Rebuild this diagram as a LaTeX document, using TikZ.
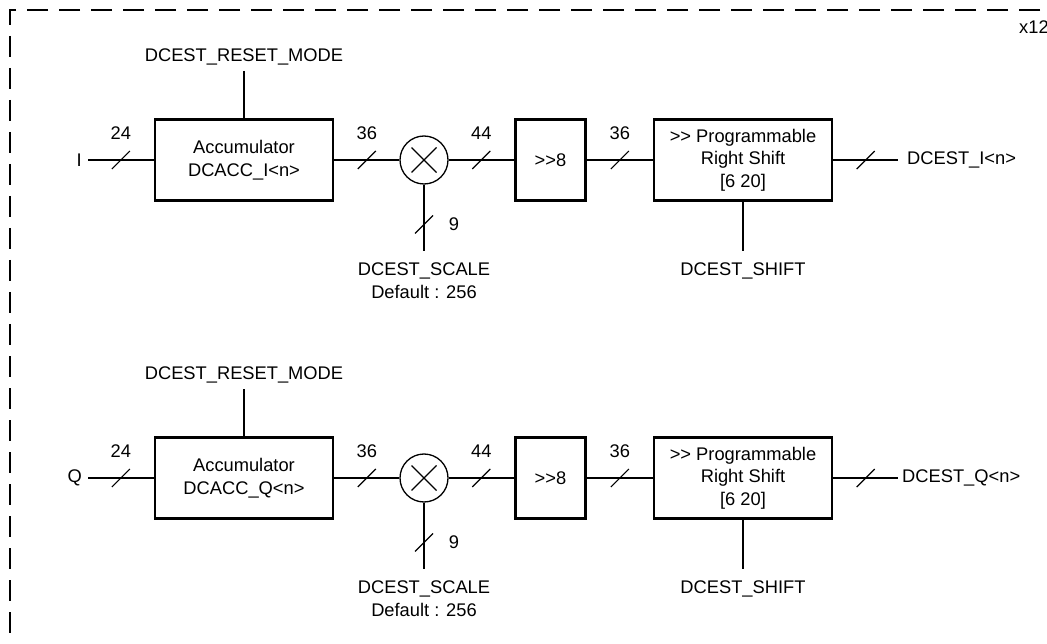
\documentclass[tikz,border=0pt]{standalone}
\usepackage{fontspec}
\setmainfont[Ligatures=TeXOff]{Liberation Sans}
\usetikzlibrary{calc}

\begin{document}
\begin{tikzpicture}[
  x=1pt,y=-1pt,
  line join=miter,
  txt/.style={font=\fontsize{18.3}{22.5}\selectfont,text=black},
  blk/.style={txt,draw=black,line width=2.6pt,minimum height=81.5pt,align=center,inner sep=0pt},
  wire/.style={draw=black,line width=1.3pt},
  tick/.style={draw=black,line width=1.2pt},
  width/.style={txt,inner sep=0pt},
  toplab/.style={txt,anchor=south,inner xsep=0pt,inner ysep=9pt,text depth=0pt},
  botlab/.style={txt,anchor=north,align=center,inner xsep=0pt,inner ysep=12pt}
]
\useasboundingbox (0,0) rectangle (1047,644);

% repeated block frame
\draw[line width=2pt,dash pattern=on 21pt off 11pt] (1072,10)--(10,10)--(10,700);
\node[txt,anchor=west,inner sep=0pt] (copies) at (1019,27) {x12};

% one channel per row
\foreach \n/\dy/\gap in {I/0/9pt,Q/318/4pt}{
\begin{scope}[shift={(0,\dy)}]
  \node[txt,anchor=east,inner xsep=6pt,inner ysep=0pt] (in\n) at (88,160) {\n};
  \node[blk,minimum width=178pt] (acc\n) at (244,160) {Accumulator\\DCACC\_\n<n>};
  \node[circle,draw=black,line width=1.3pt,minimum size=48pt,inner sep=0pt] (mul\n) at (424,160) {};
  \draw[line width=1.3pt] (mul\n.center) +(-12.5,-12.5) -- +(12.5,12.5)
                          (mul\n.center) +(-12.5,12.5) -- +(12.5,-12.5);
  \node[blk,minimum width=70.5pt] (rsh\n) at (550.5,160) {>>8};
  \node[blk,minimum width=178pt] (prog\n) at (743,160) {>> Programmable\\Right Shift\\{[6 20]}};

  % control inputs
  \node[toplab] (rst\n) at (244,71) {DCEST\_RESET\_MODE};
  \draw[wire] (rst\n.south) -- (rst\n.south |- acc\n.north);
  \node[botlab] (scl\n) at (424,251) {DCEST\_SCALE\\Default : 256};
  \draw[wire] (mul\n.south) -- (scl\n.north);
  \draw[tick] ($(mul\n.south)!.6!(scl\n.north)$) +(-9,9) -- +(9,-9);
  \node[width] (w9\n) at ($(mul\n.south)!.6!(scl\n.north)+(30,0)$) {9};
  \node[botlab] (shf\n) at (743,251) {DCEST\_SHIFT};
  \draw[wire] (prog\n.south) -- (shf\n.north);

  % buses with width ticks
  \foreach \a/\b/\w in {in\n/acc\n/24,acc\n/mul\n/36,mul\n/rsh\n/44,rsh\n/prog\n/36}{
    \draw[wire] (\a.east) -- (\b.west);
    \draw[tick] ($(\a.east)!.5!(\b.west)$) +(-9,9) -- +(9,-9);
    \node[width] (w\w\a) at ($(\a.east)!.5!(\b.west)+(0,-27)$) {\w};
  }

  % output
  \coordinate (out\n) at (898,160);
  \node[txt,anchor=west,inner xsep=\gap,inner ysep=0pt] (est\n) at (out\n) {DCEST\_\n<n>};
  \draw[wire] (prog\n.east) -- (out\n);
  \draw[tick] ($(prog\n.east)!.5!(out\n)$) +(-9,9) -- +(9,-9);
\end{scope}
}

\end{tikzpicture}
\end{document}
